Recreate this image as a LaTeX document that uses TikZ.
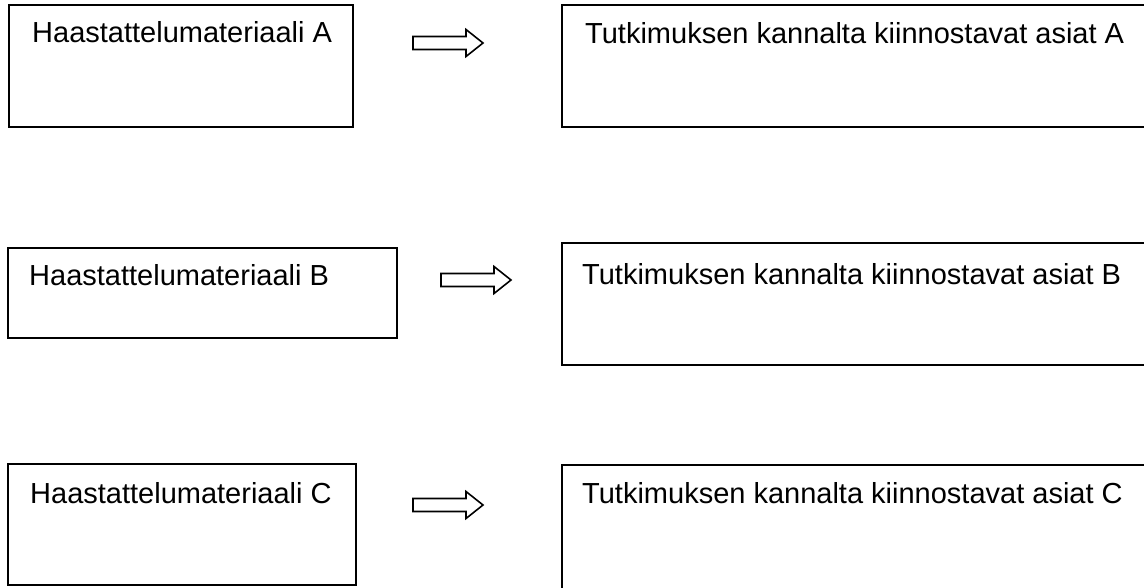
\documentclass[tikz,border=0pt]{standalone}
\usepackage{fontspec}
\setmainfont{Liberation Sans}
\begin{document}
\begin{tikzpicture}[x=1pt,y=-1pt,
  boxline/.style={draw=black, line width=1.8pt},
  lbl/.style={anchor=base west, inner sep=0pt, font=\fontsize{29}{34}\selectfont},
  arrowline/.style={draw=black, line width=1.6pt, line join=miter, fill=white},
  blockarrow/.pic={\draw[arrowline] (0,-6.5) -- (53,-6.5) -- (53,-13.5) -- (70,0) -- (53,13.5) -- (53,6.5) -- (0,6.5) -- cycle;}]
\useasboundingbox (0,0) rectangle (1144,587);
\clip (0,0) rectangle (1144,587);
% row A
\draw[boxline] (9,5) rectangle (353,127);
\node[lbl] (la) at (32,42) {Haastattelumateriaali A};
\pic (arA) at (413,43) {blockarrow};
\draw[boxline] (562,5) rectangle (1170,127);
\node[lbl] (ra) at (585,43) {Tutkimuksen kannalta kiinnostavat asiat A};
% row B
\draw[boxline] (8,248) rectangle (397,338);
\node[lbl] (lb) at (29,285) {Haastattelumateriaali B};
\pic (arB) at (441,280) {blockarrow};
\draw[boxline] (562,243) rectangle (1170,365);
\node[lbl] (rb) at (582,284) {Tutkimuksen kannalta kiinnostavat asiat B};
% row C
\draw[boxline] (8,464) rectangle (356,585);
\node[lbl] (lc) at (30,503) {Haastattelumateriaali C};
\pic (arC) at (413,505) {blockarrow};
\draw[boxline] (562,465) rectangle (1170,610);
\node[lbl] (rc) at (582,503) {Tutkimuksen kannalta kiinnostavat asiat C};
\end{tikzpicture}
\end{document}
